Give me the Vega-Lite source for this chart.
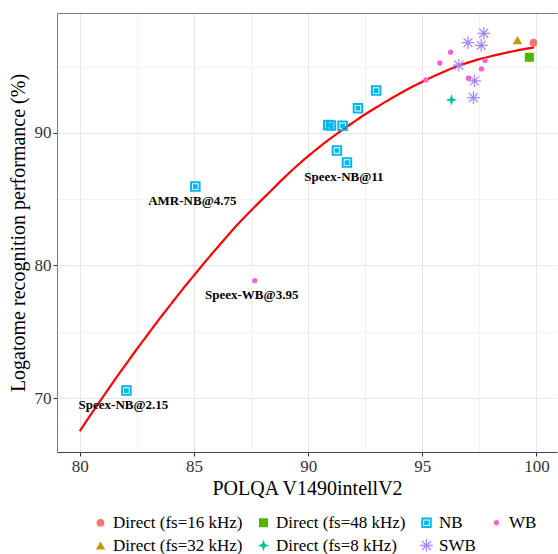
{
  "$schema": "https://vega.github.io/schema/vega-lite/v6.json",
  "width": 500,
  "height": 439,
  "autosize": {"type": "none"},
  "padding": {"left": 57, "top": 13, "right": 1, "bottom": 102},
  "background": "white",
  "config": {
    "font": "Liberation Serif",
    "view": {"stroke": null},
    "axis": {
      "labelFont": "Liberation Serif",
      "titleFont": "Liberation Serif",
      "labelFontSize": 17,
      "labelColor": "#333333",
      "titleFontSize": 20,
      "titleFontWeight": "normal",
      "titleColor": "black",
      "tickColor": "#333333",
      "tickSize": 4,
      "gridColor": "#E6E6E6",
      "gridWidth": 1
    },
    "legend": {
      "orient": "none",
      "legendX": 35,
      "legendY": 501,
      "direction": "horizontal",
      "columns": 4,
      "labelFont": "Liberation Serif",
      "labelFontSize": 17,
      "labelColor": "black",
      "labelOffset": 4,
      "columnPadding": 12,
      "rowPadding": 5,
      "labelLimit": 300,
      "padding": 0
    }
  },
  "datasets": {
    "pts": [
      {"group": "Direct (fs=16 kHz)", "x": 99.87, "y": 96.8},
      {"group": "Direct (fs=48 kHz)", "x": 99.69, "y": 95.7},
      {"group": "Direct (fs=32 kHz)", "x": 99.17, "y": 97.0},
      {"group": "Direct (fs=8 kHz)", "x": 96.28, "y": 92.49},
      {"group": "SWB", "x": 97.69, "y": 97.51},
      {"group": "SWB", "x": 97.0, "y": 96.8},
      {"group": "SWB", "x": 97.58, "y": 96.6},
      {"group": "SWB", "x": 96.6, "y": 95.1},
      {"group": "SWB", "x": 97.29, "y": 93.92},
      {"group": "SWB", "x": 97.24, "y": 92.66},
      {"group": "WB", "x": 96.24, "y": 96.08},
      {"group": "WB", "x": 95.77, "y": 95.27},
      {"group": "WB", "x": 95.16, "y": 93.99},
      {"group": "WB", "x": 97.75, "y": 95.45},
      {"group": "WB", "x": 97.59, "y": 94.82},
      {"group": "WB", "x": 97.02, "y": 94.12},
      {"group": "WB", "x": 87.66, "y": 78.85, "label": "Speex-WB@3.95"},
      {"group": "NB", "x": 92.98, "y": 93.19},
      {"group": "NB", "x": 92.18, "y": 91.86},
      {"group": "NB", "x": 90.88, "y": 90.6},
      {"group": "NB", "x": 91.0, "y": 90.55},
      {"group": "NB", "x": 91.51, "y": 90.53},
      {"group": "NB", "x": 91.26, "y": 88.67},
      {"group": "NB", "x": 91.7, "y": 87.76, "label": "Speex-NB@11"},
      {"group": "NB", "x": 85.06, "y": 85.95, "label": "AMR-NB@4.75"},
      {"group": "NB", "x": 82.04, "y": 70.56, "label": "Speex-NB@2.15"}
    ],
    "fit": [
      {"x": 80.0, "y": 67.5},
      {"x": 80.5, "y": 68.8},
      {"x": 81.0, "y": 70.05},
      {"x": 81.5, "y": 71.3},
      {"x": 82.0, "y": 72.5},
      {"x": 82.5, "y": 73.7},
      {"x": 83.0, "y": 74.85},
      {"x": 83.5, "y": 76.0},
      {"x": 84.0, "y": 77.1},
      {"x": 84.5, "y": 78.2},
      {"x": 85.0, "y": 79.25},
      {"x": 85.5, "y": 80.3},
      {"x": 86.0, "y": 81.3},
      {"x": 86.5, "y": 82.3},
      {"x": 87.0, "y": 83.25},
      {"x": 87.5, "y": 84.15},
      {"x": 88.0, "y": 85.0},
      {"x": 88.5, "y": 85.85},
      {"x": 89.0, "y": 86.7},
      {"x": 89.5, "y": 87.5},
      {"x": 90.0, "y": 88.25},
      {"x": 90.5, "y": 88.95},
      {"x": 91.0, "y": 89.6},
      {"x": 91.5, "y": 90.22},
      {"x": 92.0, "y": 90.82},
      {"x": 92.5, "y": 91.4},
      {"x": 93.0, "y": 91.93},
      {"x": 93.5, "y": 92.45},
      {"x": 94.0, "y": 92.95},
      {"x": 94.5, "y": 93.42},
      {"x": 95.0, "y": 93.86},
      {"x": 95.5, "y": 94.27},
      {"x": 96.0, "y": 94.65},
      {"x": 96.5, "y": 95.0},
      {"x": 97.0, "y": 95.3},
      {"x": 97.5, "y": 95.56},
      {"x": 98.0, "y": 95.78},
      {"x": 98.5, "y": 95.98},
      {"x": 99.0, "y": 96.16},
      {"x": 99.5, "y": 96.33},
      {"x": 99.9, "y": 96.45}
    ]
  },
  "layer": [
    {
      "data": {"name": "fit"},
      "mark": {"type": "line", "color": "#FF0000", "strokeWidth": 2.2, "interpolate": "monotone"},
      "encoding": {
        "x": {"field": "x", "type": "quantitative",
          "scale": {"domain": [79, 100.9], "nice": false, "zero": false},
          "axis": {"orient": "bottom", "values": [80, 85, 90, 95, 100], "title": "POLQA V1490intellV2", "domainColor": "#444444", "labelPadding": 2, "titlePadding": 4}},
        "y": {"field": "y", "type": "quantitative",
          "scale": {"domain": [65.93, 99.04], "nice": false, "zero": false},
          "axis": {"orient": "left", "values": [70, 80, 90], "title": "Logatome recognition performance (%)", "domainColor": "#7A7A7A", "labelPadding": 2, "titlePadding": 6}}
      }
    },
    {
      "data": {"name": "pts"},
      "mark": {"type": "point", "filled": true, "opacity": 1},
      "encoding": {
        "x": {"field": "x", "type": "quantitative", "scale": {"domain": [79, 100.9], "nice": false, "zero": false}, "axis": null},
        "y": {"field": "y", "type": "quantitative", "scale": {"domain": [65.93, 99.04], "nice": false, "zero": false}, "axis": null},
        "color": {"field": "group", "type": "nominal",
          "legend": {"title": null, "labelFont": "Liberation Serif", "labelFontSize": 17},
          "scale": {"domain": ["Direct (fs=16 kHz)", "Direct (fs=48 kHz)", "NB", "WB", "Direct (fs=32 kHz)", "Direct (fs=8 kHz)", "SWB"],
            "range": ["#F8766D", "#53B400", "#00B6EB", "#FB61D7", "#C49A00", "#00C094", "#A58AFF"]}},
        "shape": {"field": "group", "type": "nominal",
          "legend": {"title": null, "labelFont": "Liberation Serif", "labelFontSize": 17},
          "scale": {"domain": ["Direct (fs=16 kHz)", "Direct (fs=48 kHz)", "NB", "WB", "Direct (fs=32 kHz)", "Direct (fs=8 kHz)", "SWB"],
            "range": ["circle", "square", "M-1,-1L1,-1L1,1L-1,1ZM-0.62,-0.62L-0.62,0.62L0.62,0.62L0.62,-0.62ZM-0.45,-0.45L0.45,-0.45L0.45,0.45L-0.45,0.45Z", "circle", "triangle-up", "M0,-1L0.25,-0.25L1,0L0.25,0.25L0,1L-0.25,0.25L-1,0L-0.25,-0.25Z", "M-1,-0.1L1,-0.1L1,0.1L-1,0.1ZM0.1,-1L0.1,1L-0.1,1L-0.1,-1ZM-0.636,-0.778L0.778,0.636L0.636,0.778L-0.778,-0.636ZM-0.778,0.636L0.636,-0.778L0.778,-0.636L-0.636,0.778ZM-0.3,-0.3L0.3,-0.3L0.3,0.3L-0.3,0.3Z"]}},
        "size": {"field": "group", "type": "nominal",
          "legend": {"title": null, "labelFont": "Liberation Serif", "labelFontSize": 17},
          "scale": {"type": "ordinal", "domain": ["Direct (fs=16 kHz)", "Direct (fs=48 kHz)", "NB", "WB", "Direct (fs=32 kHz)", "Direct (fs=8 kHz)", "SWB"],
            "range": [60, 81, 110, 28, 90, 130, 160]}}
      }
    },
    {
      "data": {"name": "pts"},
      "transform": [{"filter": "datum.label != null"}],
      "mark": {"type": "text", "dx": -3, "dy": 14, "fontWeight": "bold", "fontSize": 13, "color": "black", "font": "Liberation Serif"},
      "encoding": {
        "x": {"field": "x", "type": "quantitative", "scale": {"domain": [79, 100.9], "nice": false, "zero": false},
          "axis": {"orient": "top", "values": [82.5, 87.5, 92.5, 97.5], "labels": false, "ticks": false, "title": null, "domainColor": "#7A7A7A", "grid": true, "gridColor": "#F2F2F2"}},
        "y": {"field": "y", "type": "quantitative", "scale": {"domain": [65.93, 99.04], "nice": false, "zero": false},
          "axis": {"orient": "right", "values": [75, 85, 95], "labels": false, "ticks": false, "title": null, "domain": false, "grid": true, "gridColor": "#F2F2F2"}},
        "text": {"field": "label"}
      }
    }
  ],
  "resolve": {"axis": {"x": "independent", "y": "independent"}}
}
